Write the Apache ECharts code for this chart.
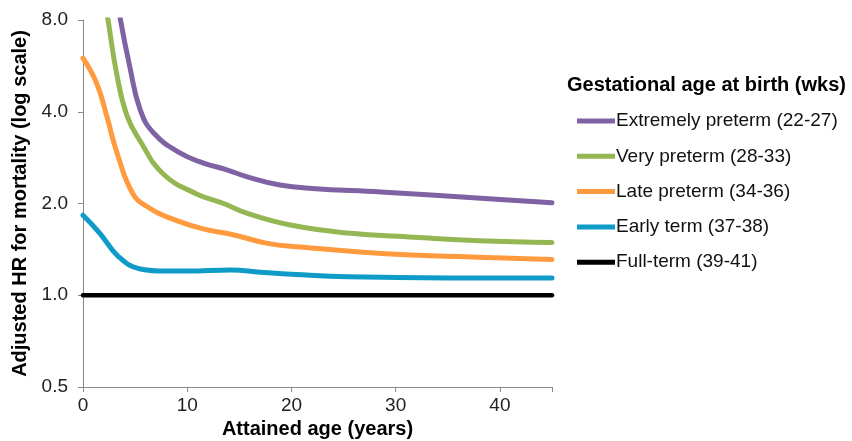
<!DOCTYPE html>
<html><head><meta charset="utf-8">
<script src="https://cdn.jsdelivr.net/npm/echarts@6/dist/echarts.min.js"></script>
<style>html,body{margin:0;padding:0;background:#fff}#c{width:852px;height:441px}</style>
</head><body><div id="c"></div>
<script>
const seriesNames = ['Extremely preterm (22-27)','Very preterm (28-33)','Late preterm (34-36)','Early term (37-38)','Full-term (39-41)'];
const colors = ['#7E62A3','#95B753','#FF9A3E','#0E9BC8','#000000'];
const xTicks = [0,10,20,30,40];
const yTicks = [0.5,1,2,4,8];

const extremeAge = [3.0, 3.6, 4.5, 5.5, 6.8, 9.3, 11.5, 13.8, 15.7, 18.9, 22, 28.6, 38.2, 45];
const extremeHR  = [11, 8, 5.6, 4.05, 3.4, 2.93, 2.72, 2.58, 2.45, 2.30, 2.24, 2.18, 2.08, 2.01];
const veryAge = [1.8, 2.4, 3.2, 4.2, 5.5, 7.7, 10.9, 13.5, 15.7, 19.9, 25.4, 31.8, 38, 45];
const veryHR  = [10.5, 8, 5.4, 3.9, 3.2, 2.5, 2.15, 2.0, 1.86, 1.70, 1.60, 1.55, 1.51, 1.49];
const lateAge = [0, 1.3, 2.3, 3.2, 4.8, 6.4, 8.0, 11.25, 14.4, 17.7, 20.9, 28.6, 36, 45];
const lateHR  = [6.0, 4.97, 3.85, 2.98, 2.15, 1.93, 1.81, 1.66, 1.58, 1.48, 1.44, 1.37, 1.34, 1.31];
const earlyAge = [0, 1.6, 3.4, 5.5, 8, 10, 14.2, 17, 20.4, 25.4, 35, 45];
const earlyHR  = [1.83, 1.6, 1.34, 1.22, 1.20, 1.20, 1.21, 1.19, 1.17, 1.15, 1.14, 1.14];
const fullAge = [0, 45];
const fullHR  = [1, 1];

const ages = [extremeAge, veryAge, lateAge, earlyAge, fullAge];
const hrs = [extremeHR, veryHR, lateHR, earlyHR, fullHR];

const font = 'Liberation Sans, Arial, sans-serif';
const chart = echarts.init(document.getElementById('c'), null, {renderer:'canvas'});
const series = seriesNames.map((n,i)=>({
  name:n, type:'line', data: ages[i].map((a,j)=>[a,hrs[i][j]]),
  smooth: i===4 ? false : 0.45, showSymbol:false, clip:true,
  lineStyle:{color:colors[i], width: i===4 ? 4.5 : 5, cap:'round', join:'round'},
  itemStyle:{color:colors[i]}, z: 10 - i
}));
chart.setOption({
  animation:false,
  textStyle:{fontFamily:font},
  title:{text:'Gestational age at birth (wks)', left:567, top:75, padding:0,
    textStyle:{fontFamily:font, fontSize:20, fontWeight:'bold', color:'#000'}},
  legend:{orient:'vertical', left:577, top:111, padding:0, icon:'rect', itemWidth:38, itemHeight:5,
    itemGap:15.3, data:seriesNames,
    textStyle:{fontFamily:font, fontSize:19, color:'#111', lineHeight:20, padding:[0,0,0,-4]}},
  grid:{left:83, right:300, top:20, bottom:54, containLabel:false, outerBoundsMode:'none'},
  xAxis:{type:'value', min:0, max:45, interval:10,
    name:'Attained age (years)', nameLocation:'middle', nameGap:27,
    nameTextStyle:{fontFamily:font, fontSize:20, fontWeight:'bold', color:'#000'},
    axisLine:{lineStyle:{color:'#888', width:1}},
    axisTick:{show:true, length:5, lineStyle:{color:'#888'}},
    axisLabel:{fontSize:19, color:'#222', margin:9, fontFamily:font,
      formatter:v=> xTicks.includes(v) ? String(v) : ''},
    splitLine:{show:false}},
  yAxis:{type:'log', logBase:2, min:yTicks[0], max:yTicks[yTicks.length-1],
    name:'Adjusted HR for mortality (log scale)', nameLocation:'middle', nameGap:48,
    nameTextStyle:{fontFamily:font, fontSize:20, fontWeight:'bold', color:'#000'},
    axisLine:{show:true, lineStyle:{color:'#888', width:1}},
    axisTick:{show:true, length:5, lineStyle:{color:'#888'}},
    axisLabel:{fontSize:19, color:'#222', margin:15, fontFamily:font,
      formatter:v=> Number(v).toFixed(1)},
    splitLine:{show:false}},
  series: series
});
</script></body></html>
